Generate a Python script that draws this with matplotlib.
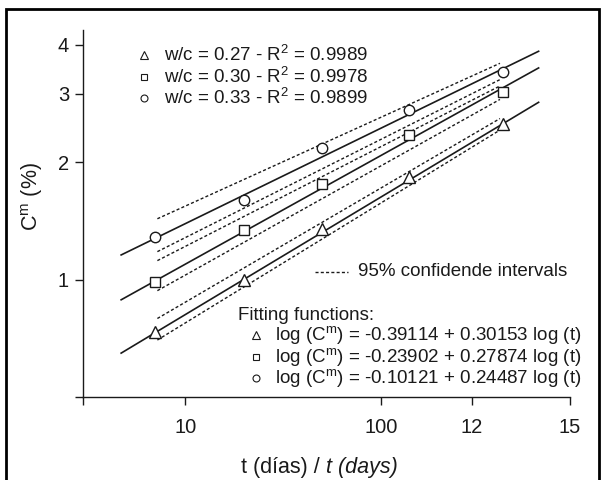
import math
import matplotlib
matplotlib.use("Agg")
import matplotlib.pyplot as plt
from matplotlib.lines import Line2D
from matplotlib.patches import Rectangle

plt.rcParams['font.family'] = ['Liberation Sans', 'DejaVu Sans']
plt.rcParams['mathtext.fontset'] = 'custom'
plt.rcParams['mathtext.rm'] = 'Liberation Sans'
plt.rcParams['mathtext.it'] = 'Liberation Sans:italic'

# curing age (days) and measured C^m (%) for each w/c
t_days = [7, 20, 50, 140, 420]
cm_027 = [0.732, 1.00, 1.35, 1.83, 2.51]
cm_030 = [0.984, 1.34, 1.76, 2.35, 3.03]
cm_033 = [1.285, 1.60, 2.18, 2.73, 3.40]

wc_labels = ['0.27', '0.30', '0.33']
r2_labels = ['0.9989', '0.9978', '0.9899']
intercepts = [-0.39114, -0.23902, -0.10121]
slopes = [0.30153, 0.27874, 0.24487]
markers = ['^', 's', 'o']
msizes = [8.5, 7, 7.5]
key_sizes = [6, 5, 5]

# span of the fitted lines
t_fit = [4.7, 640]
# 95% confidence band end points
t_ci = [7.2, 406]
ci_low = [[0.700, 2.42], [0.937, 2.90], [1.180, 3.26]]
ci_up = [[0.795, 2.59], [1.119, 3.14], [1.433, 3.59]]

x_ticks = [3, 10, 100, 292, 926]
x_ticklabels = ['', '10', '100', '12', '15']
y_ticks = [0.5, 1, 2, 3, 4]
y_ticklabels = ['', '1', '2', '3', '4']

W, H = 603, 480
ink = '#1a1a1a'
dots = (0, (2.2, 1.6))
fs_key = 13.5


def px(x, y):
    return x / W, 1 - y / H


fig = plt.figure(figsize=(W / 100, H / 100), dpi=100)
ax = fig.add_axes([83 / W, 1 - 397 / H, (570 - 83) / W, (397 - 30) / H])
ax.set_xscale('log')
ax.set_yscale('log')

series = [cm_027, cm_030, cm_033]
for i, cm in enumerate(series):
    a, b = intercepts[i], slopes[i]
    yfit = [10 ** (a + b * math.log10(t)) for t in t_fit]
    ax.plot(t_fit, yfit, color=ink, lw=1.2)
    ax.plot(t_ci, ci_low[i], color=ink, lw=1, ls=dots)
    ax.plot(t_ci, ci_up[i], color=ink, lw=1, ls=dots)
    ax.plot(t_days, cm, ls='none', marker=markers[i], ms=msizes[i],
            mfc='white', mec=ink, mew=1, zorder=3)

ax.set_xlim(3, 926)
ax.set_ylim(0.5, 4.37)
ax.set_xticks(x_ticks)
ax.set_xticklabels(x_ticklabels)
ax.set_yticks(y_ticks)
ax.set_yticklabels(y_ticklabels)
ax.minorticks_off()
ax.tick_params(axis='both', direction='out', length=6, width=1, color=ink,
               labelcolor=ink, labelsize=14.5)
ax.tick_params(axis='x', pad=9)
ax.tick_params(axis='y', pad=4)
for side in ['top', 'right']:
    ax.spines[side].set_visible(False)
for side in ['left', 'bottom']:
    ax.spines[side].set_color(ink)
    ax.spines[side].set_linewidth(1)

# axis titles
fig.text(*px(32, 197), 'C$^{\\mathrm{m}}$ (%)', rotation=90, ha='center',
         va='center', fontsize=15.5, color=ink)
fig.text(*px(326, 468), 't (días) / ', ha='right', va='center',
         fontsize=15.5, color=ink)
fig.text(*px(326, 468), 't (days)', ha='left', va='center',
         fontsize=15.5, color=ink, style='italic')

# top-left key
for i, yy in enumerate([55, 76.7, 98.3]):
    fig.add_artist(Line2D([143.5 / W], [1 - yy / H], marker=markers[i],
                          ms=key_sizes[i], mfc='white', mec=ink, mew=0.8,
                          ls='none'))
    fig.text(*px(163.5, yy), 'w/c = %s - R$^2$ = %s' % (wc_labels[i], r2_labels[i]),
             ha='left', va='center', fontsize=fs_key, color=ink)

# confidence interval key
fig.add_artist(Line2D([315 / W, 348 / W], [1 - 271.7 / H] * 2, color=ink,
                      lw=1, ls=dots))
fig.text(*px(358.5, 271.7), '95% confidende intervals', ha='left',
         va='center', fontsize=fs_key, color=ink)

# fitting functions
fig.text(*px(238.5, 315), 'Fitting functions:', ha='left', va='center',
         fontsize=fs_key, color=ink)
for i, yy in enumerate([335, 357.3, 378.3]):
    fig.add_artist(Line2D([255.8 / W], [1 - yy / H], marker=markers[i],
                          ms=key_sizes[i], mfc='white', mec=ink, mew=0.8,
                          ls='none'))
    fig.text(*px(275, yy),
             'log (C$^{\\mathrm{m}}$) = %.5f + %.5f log (t)' % (intercepts[i], slopes[i]),
             ha='left', va='center', fontsize=fs_key, color=ink)

# outer frame
fig.add_artist(Rectangle((6 / W, -0.02), (599 - 6) / W, (480 - 9) / H + 0.02,
                         transform=fig.transFigure, fill=False, ec='black',
                         lw=2))

fig.savefig('out.png', dpi=100)
